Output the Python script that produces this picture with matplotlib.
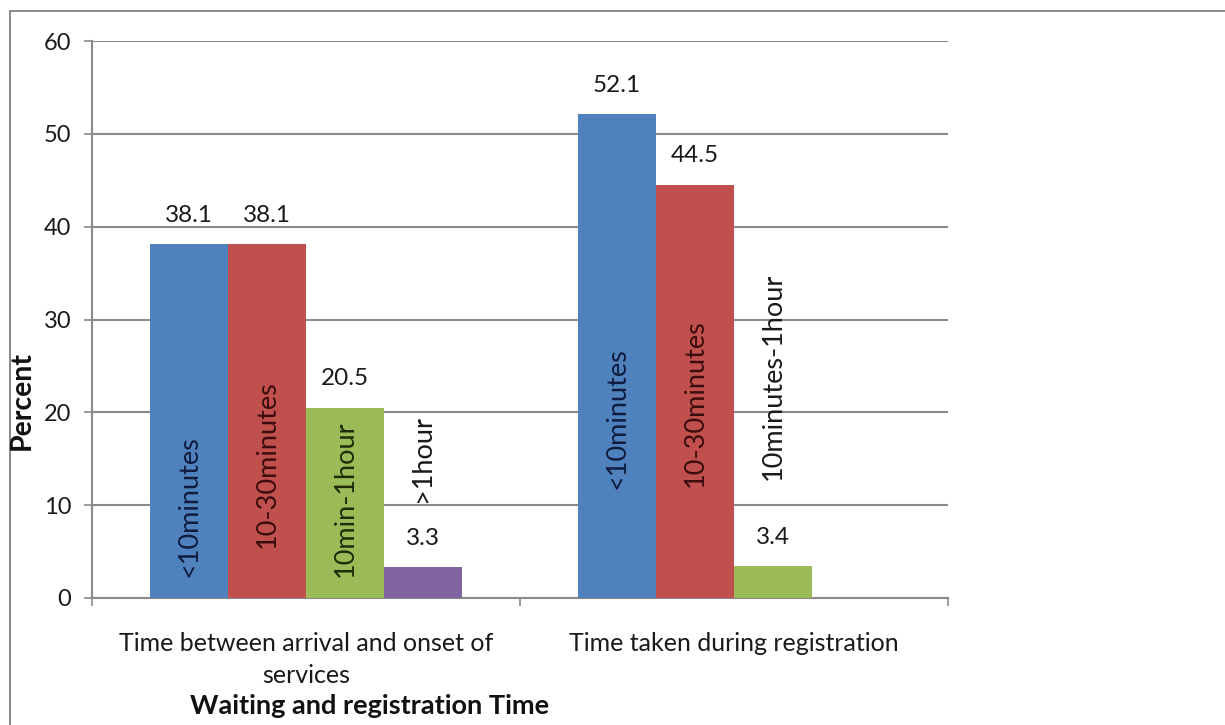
import matplotlib
matplotlib.use("Agg")
import matplotlib.pyplot as plt
from matplotlib.patches import Rectangle
import numpy as np

# --- data -------------------------------------------------------------
categories = ["Time between arrival and onset of\nservices",
              "Time taken during registration"]
series_values = [
    [38.1, 52.1],   # first duration band
    [38.1, 44.5],   # second duration band
    [20.5, 3.4],    # third duration band
    [3.3, None],    # fourth duration band
]
series_labels = [
    ["<10minutes", "<10minutes"],
    ["10-30minutes", "10-30minutes"],
    ["10min-1hour", "10minutes-1hour"],
    [">1hour", ""],
]
y_ticks = [0, 10, 20, 30, 40, 50, 60]
y_title = "Percent"
x_title = "Waiting and registration Time"

# --- styling ----------------------------------------------------------
bar_colors = ["#4F81BD", "#C0504D", "#9BBB59", "#8064A2"]
inner_text_colors = ["#0f1c3f", "#3b0d0c", "#1e2b08", "#1a1a1a"]
grid_color = "#8a8a8a"
font = ["Lato", "DejaVu Sans"]
plt.rcParams["font.family"] = font

# vertical centre (data units) of each rotated series label
label_centres = [
    [9.9, 19.4],
    [14.4, 21.0],
    [10.7, 23.9],
    [15.0, None],
]

W, H = 1225, 725
fig = plt.figure(figsize=(W / 100, H / 100), dpi=100)
fig.patch.set_facecolor("white")

# outer chart border
fig.add_artist(Rectangle((10 / W, -0.05), 1.2, 1 - 11 / H + 0.05,
                         transform=fig.transFigure, fill=False,
                         edgecolor="#7f7f7f", linewidth=1.3))

ax = fig.add_axes([92 / W, 127 / H, (948 - 92) / W, (598 - 41) / H])
ax.set_xlim(-0.5, 1.5)
ax.set_ylim(0, 60)

n = len(series_values)
width = 0.182
x = np.arange(len(categories))
for i, (vals, labs) in enumerate(zip(series_values, series_labels)):
    offset = (i - (n - 1) / 2) * width
    for j, v in enumerate(vals):
        if v is None:
            continue
        xc = x[j] + offset
        ax.bar(xc, v, width=width, color=bar_colors[i], zorder=3,
               linewidth=0)
        ax.annotate(f"{v:.1f}", (xc, v), xytext=(0, 21),
                    textcoords="offset points", ha="center", va="center",
                    fontsize=17.5, color="#1a1a1a", zorder=4)
        lab = labs[j]
        if lab:
            yc = label_centres[i][j]
            inside = yc < v
            col = inner_text_colors[i] if inside else "#1a1a1a"
            ax.text(xc, yc, lab, rotation=90, ha="center", va="center",
                    fontsize=19.5, color=col, zorder=4)

# axes and grid
ax.set_yticks(y_ticks)
ax.set_yticklabels([str(t) for t in y_ticks], fontsize=17, color="#1a1a1a")
ax.yaxis.grid(True, color=grid_color, linewidth=1.5, zorder=0)
ax.set_axisbelow(True)
ax.tick_params(axis="y", length=6, width=1.2, color=grid_color, pad=9)

ax.set_xticks([-0.5, 0.5, 1.5])
ax.set_xticklabels(["", "", ""])
ax.tick_params(axis="x", length=6, width=1.2, color=grid_color)
for j, cat in enumerate(categories):
    ax.text(x[j], -3.7, cat, ha="center", va="top", fontsize=18,
            color="#1a1a1a", linespacing=1.43,
            transform=ax.transData, clip_on=False)

for side in ("top", "right"):
    ax.spines[side].set_visible(False)
for side in ("left", "bottom"):
    ax.spines[side].set_color(grid_color)
    ax.spines[side].set_linewidth(1.5)

fig.text(22 / W, 1 - 400 / H, y_title, rotation=90, ha="center",
         va="center", fontsize=20.5, fontweight="bold", color="#111111")
fig.text(370 / W, 1 - 706 / H, x_title, ha="center", va="center",
         fontsize=19.5, fontweight="bold", color="#111111")

fig.savefig("out.png", dpi=100, facecolor="white")
